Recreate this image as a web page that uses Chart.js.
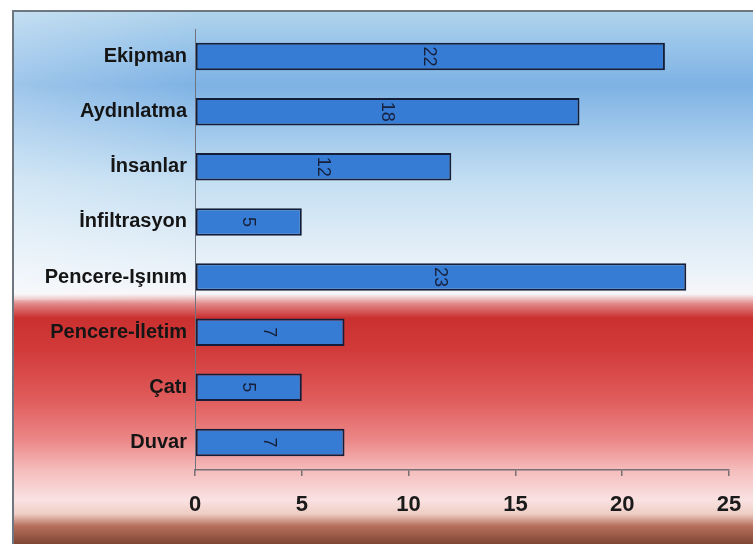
<!DOCTYPE html>
<html>
<head>
<meta charset="utf-8">
<script src="https://cdn.jsdelivr.net/npm/chart.js@4/dist/chart.umd.min.js"></script>
<style>
  html, body { margin: 0; padding: 0; background: #ffffff; }
  #wrap { width: 753px; height: 544px; position: relative; }
</style>
</head>
<body>
<div id="wrap"><canvas id="c" width="753" height="544"></canvas></div>
<script>
// Heat gain components (top to bottom)
const categories = ["Ekipman", "Aydınlatma", "İnsanlar", "İnfiltrasyon", "Pencere-Işınım", "Pencere-İletim", "Çatı", "Duvar"];
const values = [22, 18, 12, 5, 23, 7, 5, 7];
const xTicks = [0, 5, 10, 15, 20, 25];

// Framed backdrop: blue sky on top, red band below, dark edge at the bottom
const backdrop = {
  id: "backdrop",
  beforeDraw(chart) {
    const ctx = chart.ctx;
    const W = chart.width, H = chart.height;
    ctx.save();
    ctx.fillStyle = "#ffffff";
    ctx.fillRect(0, 0, W, H);
    const fx = 12, fy = 10;
    const g = ctx.createLinearGradient(0, fy, 0, H);
    const stops = [
      [10, "rgb(178,212,236)"], [40, "rgb(155,198,234)"], [85, "rgb(126,178,228)"],
      [130, "rgb(158,199,235)"], [180, "rgb(195,222,242)"], [230, "rgb(218,234,246)"],
      [275, "rgb(236,243,250)"], [294, "rgb(246,246,248)"], [304, "rgb(225,135,135)"],
      [318, "rgb(202,48,48)"], [350, "rgb(210,58,58)"], [400, "rgb(224,92,92)"],
      [440, "rgb(236,135,135)"], [470, "rgb(245,188,188)"], [500, "rgb(250,226,226)"],
      [514, "rgb(238,205,196)"], [526, "rgb(182,112,92)"], [544, "rgb(128,70,52)"]
    ];
    stops.forEach(([y, c]) => g.addColorStop(Math.min(1, Math.max(0, (y - fy) / (H - fy))), c));
    ctx.fillStyle = g;
    ctx.fillRect(fx, fy, W - fx, H - fy);
    // lighter wash along the left edge
    const h = ctx.createLinearGradient(fx, 0, 200, 0);
    h.addColorStop(0, "rgba(255,255,255,0.25)");
    h.addColorStop(1, "rgba(255,255,255,0)");
    ctx.fillStyle = h;
    ctx.fillRect(fx, fy, 200, 290);
    // frame edge
    ctx.strokeStyle = "rgb(110,118,128)";
    ctx.lineWidth = 2;
    ctx.beginPath();
    ctx.moveTo(fx + 1, H);
    ctx.lineTo(fx + 1, fy + 1);
    ctx.lineTo(W, fy + 1);
    ctx.stroke();
    ctx.restore();
  }
};

// Value labels rotated 90° at the middle of each bar
const barValues = {
  id: "barValues",
  afterDatasetsDraw(chart) {
    const ctx = chart.ctx;
    const meta = chart.getDatasetMeta(0);
    ctx.save();
    ctx.font = "18px 'Liberation Sans', Arial, sans-serif";
    ctx.fillStyle = "#17203a";
    ctx.textAlign = "center";
    ctx.textBaseline = "middle";
    meta.data.forEach((bar, i) => {
      const cx = (bar.x + bar.base) / 2;
      ctx.save();
      ctx.translate(cx, bar.y);
      ctx.rotate(Math.PI / 2);
      ctx.fillText(String(values[i]), 0, 1);
      ctx.restore();
    });
    ctx.restore();
  }
};

new Chart(document.getElementById("c"), {
  type: "bar",
  data: {
    labels: categories,
    datasets: [{
      data: values,
      backgroundColor: "rgb(54,124,212)",
      borderColor: "rgb(20,30,56)",
      borderWidth: 2,
      borderSkipped: false,
      categoryPercentage: 1.0,
      barPercentage: 0.5
    }]
  },
  options: {
    indexAxis: "y",
    responsive: false,
    animation: false,
    events: [],
    layout: { padding: { top: 29, right: 24, bottom: 0, left: 0 } },
    plugins: { legend: { display: false }, tooltip: { enabled: false } },
    scales: {
      x: {
        min: 0, max: 25,
        afterBuildTicks(scale) { scale.ticks = xTicks.map(v => ({ value: v })); },
        afterFit(scale) { scale.height = 74; scale.paddingLeft = 0; scale.paddingRight = 0; },
        grid: { drawOnChartArea: false, drawTicks: true, tickLength: 6, color: "rgb(120,110,115)", lineWidth: 1.5 },
        border: { display: true, color: "rgb(120,110,115)", width: 1.5 },
        ticks: {
          color: "#1a1a1a",
          padding: 16,
          maxRotation: 0,
          font: { family: "'Liberation Sans', Arial, sans-serif", size: 22, weight: "bold" }
        }
      },
      y: {
        afterFit(scale) { scale.width = 195; },
        grid: { display: false, drawTicks: false },
        border: { display: true, color: "rgb(110,115,125)", width: 1 },
        ticks: {
          color: "#151515",
          padding: 8,
          font: { family: "'Liberation Sans', Arial, sans-serif", size: 20, weight: "bold" }
        }
      }
    }
  },
  plugins: [backdrop, barValues]
});
</script>
</body>
</html>
